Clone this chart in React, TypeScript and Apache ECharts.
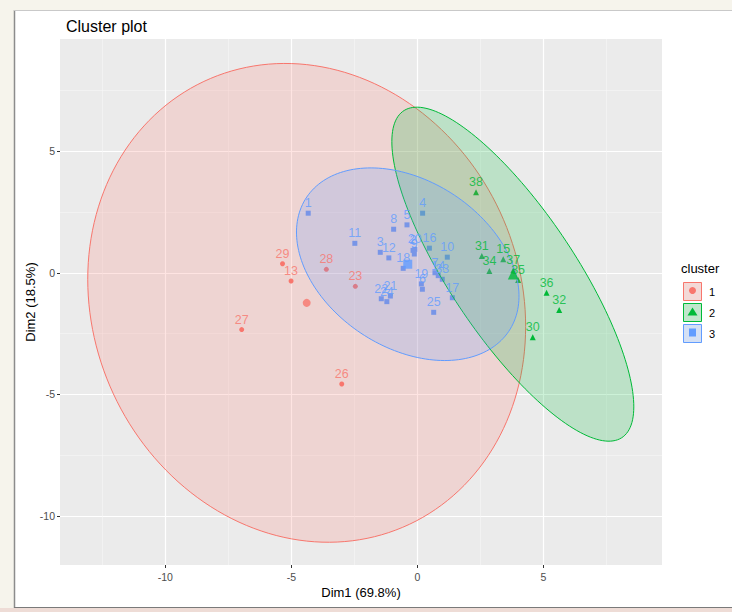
import React, { useEffect, useRef } from 'react';
import * as echarts from 'echarts';

// ---------- data ----------
const clusterNames = ['1', '2', '3'];
const clusterColors = ['#F8766D', '#00BA38', '#619CFF'];
const clusterFills = ['rgba(248,118,109,0.2)', 'rgba(0,186,56,0.2)', 'rgba(97,156,255,0.2)'];
const clusterSymbols = ['circle', 'triangle', 'rect'];
const pointSizes = [5, 6, 5];
const centroidSizes = [8, 11, 9];

const c1Labels = ['13', '23', '26', '27', '28', '29'];
const c1X = [-5.01, -2.46, -3.0, -6.97, -3.61, -5.35];
const c1Y = [-0.33, -0.55, -4.57, -2.33, 0.15, 0.38];

const c2Labels = ['15', '30', '31', '32', '34', '35', '36', '37', '38'];
const c2X = [3.41, 4.58, 2.56, 5.63, 2.86, 4.0, 5.13, 3.81, 2.33];
const c2Y = [0.56, -2.65, 0.7, -1.52, 0.08, -0.29, -0.81, 0.11, 3.32];

const c3Labels = ['1', '2', '3', '4', '5', '6', '7', '8', '9', '10', '11', '12', '14', '16', '17', '18', '19', '20', '21', '22', '24', '25', '33'];
const c3X = [-4.33, -0.17, -1.47, 0.21, -0.41, 0.2, 0.7, -0.94, -0.12, 1.19, -2.48, -1.13, 0.83, 0.48, 1.39, -0.56, 0.16, -0.1, -1.07, -1.43, -1.21, 0.65, 0.99];
const c3Y = [2.46, 0.93, 0.85, 2.46, 1.98, -0.67, 0.01, 1.8, 0.78, 0.65, 1.22, 0.62, -0.11, 1.02, -1.02, 0.19, -0.45, 0.97, -0.95, -1.06, -1.18, -1.62, -0.26];

const centroidX = [-4.39, 3.81, -0.38];
const centroidY = [-1.23, -0.04, 0.36];

// ellipse parameters (data units): centre, semi-axes, rotation (deg)
const ellipseCx = [-4.39, 3.79, -0.38];
const ellipseCy = [-1.23, -0.05, 0.36];
const ellipseA = [10.0, 8.0, 4.87];
const ellipseB = [8.52, 2.51, 3.39];
const ellipseAngle = [-71, -57.4, -36];

const xMajorTicks = [-10, -5, 0, 5];
const xMinorTicks = [-12.5, -7.5, -2.5, 2.5, 7.5];
const yMajorTicks = [-10, -5, 0, 5];
const yMinorTicks = [-7.5, -2.5, 2.5, 7.5];
const xRange = [-14.18, 9.71];
const yRange = [-12.02, 9.63];

const FONT = 'Liberation Sans, Arial, sans-serif';

const clusterX = [c1X, c2X, c3X];
const clusterY = [c1Y, c2Y, c3Y];
const clusterLabels = [c1Labels, c2Labels, c3Labels];

function buildOption() {
  const series: any[] = [];
  // points (below the ellipses)
  for (let k = 0; k < 3; k++) {
    const data = clusterX[k].map((x, i) => [x, clusterY[k][i], clusterLabels[k][i]]);
    series.push({
      type: 'scatter',
      name: clusterNames[k],
      z: 2,
      symbol: clusterSymbols[k],
      symbolSize: pointSizes[k],
      itemStyle: { color: clusterColors[k], opacity: 1 },
      data,
      silent: true,
    });
  }
  // ellipses
  series.push({
    type: 'custom',
    z: 3,
    silent: true,
    clip: true,
    encode: { x: 0, y: 1 },
    data: ellipseCx.map((cx, i) => [cx, ellipseCy[i], ellipseA[i], ellipseB[i], ellipseAngle[i]]),
    renderItem: (params: any, api: any) => {
      const i = params.dataIndex;
      const cx = api.value(0);
      const cy = api.value(1);
      const a = api.value(2);
      const b = api.value(3);
      const th = (api.value(4) * Math.PI) / 180;
      const pts: number[][] = [];
      const N = 180;
      for (let s = 0; s <= N; s++) {
        const t = (s / N) * Math.PI * 2;
        const ex = cx + a * Math.cos(t) * Math.cos(th) - b * Math.sin(t) * Math.sin(th);
        const ey = cy + a * Math.cos(t) * Math.sin(th) + b * Math.sin(t) * Math.cos(th);
        pts.push(api.coord([ex, ey]));
      }
      return {
        type: 'polygon',
        shape: { points: pts },
        style: { fill: clusterFills[i], stroke: clusterColors[i], lineWidth: 1 },
      };
    },
  });
  // labels (above the ellipses)
  for (let k = 0; k < 3; k++) {
    const data = clusterX[k].map((x, i) => [x, clusterY[k][i], clusterLabels[k][i]]);
    series.push({
      type: 'scatter',
      z: 4,
      symbol: 'rect',
      symbolSize: 1,
      itemStyle: { color: 'rgba(0,0,0,0)' },
      silent: true,
      data,
      label: {
        show: true,
        position: 'top',
        distance: 3,
        formatter: (p: any) => p.value[2],
        color: clusterColors[k],
        fontSize: 12.5,
        fontFamily: FONT,
      },
    });
  }
  // centroids
  for (let k = 0; k < 3; k++) {
    series.push({
      type: 'scatter',
      z: 5,
      symbol: clusterSymbols[k],
      symbolSize: centroidSizes[k],
      itemStyle: { color: clusterColors[k] },
      silent: true,
      data: [[centroidX[k], centroidY[k]]],
    });
  }

  const legendX = 683;
  const legendTop = 282;
  const keyStep = 21;
  const legendGraphics: any[] = [
    {
      type: 'text',
      left: 681,
      top: 262,
      style: { text: 'cluster', fill: '#000', font: `13px ${FONT}` },
    },
  ];
  for (let k = 0; k < 3; k++) {
    const y = legendTop + k * keyStep;
    const cx = legendX + 9.5;
    const cy = y + 9.5;
    legendGraphics.push({
      type: 'rect',
      shape: { x: legendX, y, width: 19, height: 19 },
      style: { fill: '#F2F2F2' },
    });
    legendGraphics.push({
      type: 'rect',
      shape: { x: legendX + 0.5, y: y + 0.5, width: 18, height: 18 },
      style: { fill: clusterFills[k], stroke: clusterColors[k], lineWidth: 1 },
    });
    if (k === 0) {
      legendGraphics.push({ type: 'circle', shape: { cx, cy: cy - 1, r: 3.5 }, style: { fill: clusterColors[k] } });
    } else if (k === 1) {
      legendGraphics.push({
        type: 'polygon',
        shape: { points: [[cx, cy - 5], [cx - 5, cy + 3], [cx + 5, cy + 3]] },
        style: { fill: clusterColors[k] },
      });
    } else {
      legendGraphics.push({ type: 'rect', shape: { x: cx - 3.5, y: cy - 5, width: 7, height: 8 }, style: { fill: clusterColors[k] } });
    }
    legendGraphics.push({
      type: 'text',
      left: 709,
      top: y + 4,
      style: { text: clusterNames[k], fill: '#000', font: `11px ${FONT}` },
    });
  }

  const frame: any[] = [
    { type: 'rect', shape: { x: 0, y: 0, width: 732, height: 10 }, style: { fill: '#F6F4EC' }, silent: true },
    { type: 'rect', shape: { x: 0, y: 0, width: 14, height: 612 }, style: { fill: '#F6F4EC' }, silent: true },
    { type: 'rect', shape: { x: 0, y: 608, width: 732, height: 4 }, style: { fill: '#EEDCD6' }, silent: true },
    { type: 'line', shape: { x1: 14.5, y1: 10, x2: 14.5, y2: 608 }, style: { stroke: '#8C8C8C', lineWidth: 1.5 }, silent: true },
    { type: 'line', shape: { x1: 14, y1: 10.5, x2: 732, y2: 10.5 }, style: { stroke: '#C9C9C9', lineWidth: 1 }, silent: true },
    { type: 'line', shape: { x1: 14, y1: 607.5, x2: 732, y2: 607.5 }, style: { stroke: '#7A7A7A', lineWidth: 1 }, silent: true },
  ];

  const baseAxis = (range: number[]) => ({
    type: 'value',
    min: range[0],
    max: range[1],
    gridIndex: 0,
    scale: true,
  });

  return {
    animation: false,
    backgroundColor: '#FFFFFF',
    title: {
      text: 'Cluster plot',
      left: 61,
      top: 13,
      textStyle: { fontSize: 16, fontWeight: 'normal', color: '#000', fontFamily: FONT },
    },
    grid: {
      left: 60,
      top: 39,
      width: 602,
      height: 526,
      show: true,
      backgroundColor: '#EBEBEB',
      borderWidth: 0,
      containLabel: false,
      outerBoundsMode: 'none',
    },
    xAxis: [
      {
        ...baseAxis(xRange),
        position: 'bottom',
        name: 'Dim1 (69.8%)',
        nameLocation: 'middle',
        nameGap: 21,
        nameMoveOverlap: false,
        nameTextStyle: { color: '#000', fontSize: 13, fontFamily: FONT },
        axisLine: { show: false, onZero: false },
        axisTick: { show: true, length: 3, lineStyle: { color: '#333333', width: 1 }, customValues: xMajorTicks },
        axisLabel: { show: true, customValues: xMajorTicks, color: '#4D4D4D', fontSize: 10.5, fontFamily: FONT, margin: 6 },
        splitLine: { show: true, lineStyle: { color: '#FFFFFF', width: 1.2 } },
        z: 1,
      },
      {
        ...baseAxis(xRange),
        position: 'top',
        axisLine: { show: false, onZero: false },
        axisTick: { show: false, customValues: xMinorTicks },
        axisLabel: { show: false, customValues: xMinorTicks },
        splitLine: { show: true, lineStyle: { color: '#F7F7F7', width: 0.6 } },
        z: 1,
      },
    ],
    yAxis: [
      {
        ...baseAxis(yRange),
        position: 'left',
        name: 'Dim2 (18.5%)',
        nameLocation: 'middle',
        nameGap: 23,
        nameRotate: 90,
        nameMoveOverlap: false,
        nameTextStyle: { color: '#000', fontSize: 13, fontFamily: FONT },
        axisLine: { show: false, onZero: false },
        axisTick: { show: true, length: 3, lineStyle: { color: '#333333', width: 1 }, customValues: yMajorTicks },
        axisLabel: { show: true, customValues: yMajorTicks, color: '#4D4D4D', fontSize: 10.5, fontFamily: FONT, margin: 5 },
        splitLine: { show: true, lineStyle: { color: '#FFFFFF', width: 1.2 } },
        z: 1,
      },
      {
        ...baseAxis(yRange),
        position: 'right',
        axisLine: { show: false, onZero: false },
        axisTick: { show: false, customValues: yMinorTicks },
        axisLabel: { show: false, customValues: yMinorTicks },
        splitLine: { show: true, lineStyle: { color: '#F7F7F7', width: 0.6 } },
        z: 1,
      },
    ],
    graphic: [...frame, ...legendGraphics],
    series,
  };
}

export default function App() {
  const ref = useRef<HTMLDivElement>(null);
  useEffect(() => {
    if (!ref.current) return;
    const chart = echarts.init(ref.current, undefined, { renderer: 'svg' });
    chart.setOption(buildOption() as any);
    return () => chart.dispose();
  }, []);
  return (
    <div
      ref={ref}
      style={{ position: 'fixed', left: 0, top: 0, width: 732, height: 612, background: '#fff' }}
    />
  );
}
